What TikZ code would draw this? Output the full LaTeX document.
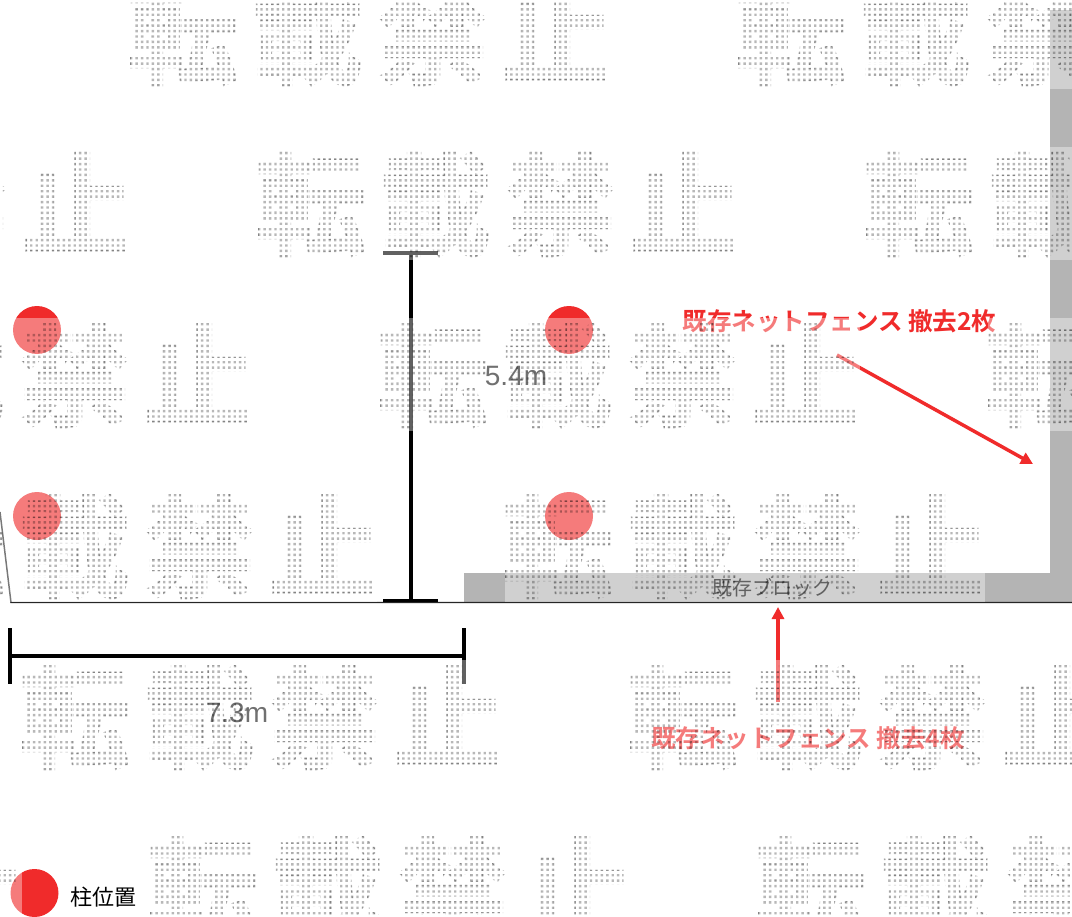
\documentclass[tikz,border=0pt]{standalone}
\usepackage{fontspec}
\usetikzlibrary{arrows.meta}
\newfontfamily\jpfont{Noto Sans CJK JP}
\newfontfamily\jpbold{Noto Sans CJK JP Bold}
\newfontfamily\jpwm[FakeBold=1.5]{Noto Sans CJK JP Bold}
\newfontfamily\latinfont{Liberation Sans}
\definecolor{fencered}{HTML}{F02B2B}
\definecolor{wallgrey}{HTML}{B4B4B4}
\newcount\wmi
\newcount\wmj
\newcommand\wmleft{0}
\newcommand\wmtop{0}
\def\wmcol{\ifnum\wmi<88
  \pgfpathrectangle{\pgfqpoint{\dimexpr\wmleft\dimexpr0.75pt\relax+\wmi\dimexpr4.0725pt\relax\relax}{\dimexpr-\wmtop\dimexpr0.75pt\relax-\wmj\dimexpr4.0725pt\relax-3.75pt\relax}}{\pgfqpoint{1.8pt}{-1.8pt}}%
  \advance\wmi 1 \expandafter\wmcol\fi}
\def\wmrow{\ifnum\wmj<20 \wmi=0 \wmcol \advance\wmj 1 \expandafter\wmrow\fi}
\newcommand\wmchar[1]{\makebox[93.75pt]{#1}}
\newcommand\wmword[3]{%
  \fill[white,opacity=.38] (#1,#2) rectangle ++(480,113);
  \begin{scope}
    \def\wmleft{#1}\def\wmtop{#2}\wmj=0 \wmrow
    \pgfusepath{clip}
    \node[wmtext] (#3) at (#1+240,#2+57) {\wmchar{転}\wmchar{載}\wmchar{禁}\wmchar{止}};
  \end{scope}}
\tikzset{
  wmtext/.style={inner sep=0pt,text=black,text opacity=.28,font=\jpwm\fontsize{84pt}{84pt}\selectfont},
  postdot/.style={circle,fill=fencered,draw=none,minimum size=36pt,inner sep=0pt},
  dimline/.style={draw=black,line width=3pt},
  tickline/.style={draw=black,line width=2.6pt},
  groundline/.style={draw=black!85,line width=1.1pt},
  redarrow/.style={draw=fencered,line width=2.6pt,-{Triangle[length=9pt,width=9pt]}},
  redlabel/.style={inner sep=0pt,text=fencered,font=\jpbold\fontsize{18.4pt}{18.4pt}\selectfont},
  dimlabel/.style={inner sep=0pt,text=black!90,font=\latinfont\fontsize{21pt}{21pt}\selectfont},
  blocklabel/.style={inner sep=0pt,text=black,font=\jpfont\fontsize{15pt}{15pt}\selectfont},
  legendlabel/.style={inner sep=0pt,text=black,font=\jpfont\fontsize{16.5pt}{16.5pt}\selectfont},
}
\begin{document}
\begin{tikzpicture}[x=0.75pt,y=-0.75pt]
\useasboundingbox (0,0) rectangle (1072,917);
\clip (0,0) rectangle (1072,917);
\fill[white] (0,0) rectangle (1072,917);
% walls
\fill[wallgrey] (464,573) rectangle (1072,602);
\fill[wallgrey] (1050,10) rectangle (1072,602);
% ground line
\coordinate (g0) at (0,512);
\coordinate (g1) at (11,602.5);
\coordinate (g2) at (1072,602.5);
\draw[groundline] (g0) -- (g1) -- (g2);
% height dimension
\coordinate (ht) at (410.5,253);
\coordinate (hb) at (410.5,600.5);
\coordinate (htl) at (383,253);
\coordinate (htr) at (438,253);
\coordinate (hbl) at (383,600.5);
\coordinate (hbr) at (438,600.5);
\draw[dimline] (ht) -- (hb);
\draw[tickline] (htl) -- (htr);
\draw[tickline] (hbl) -- (hbr);
% width dimension
\coordinate (wl) at (10,656);
\coordinate (wr) at (463.5,656);
\coordinate (wlt) at (10,628);
\coordinate (wlb) at (10,684);
\coordinate (wrt) at (463.5,628);
\coordinate (wrb) at (463.5,684);
\draw[dimline] (wl) -- (wr);
\draw[dimline] (wlt) -- (wlb);
\draw[dimline] (wrt) -- (wrb);
% posts
\node[postdot] (p1) at (37,330) {};
\node[postdot] (p2) at (569,330) {};
\node[postdot] (p3) at (37,516) {};
\node[postdot] (p4) at (569,516) {};
\node[postdot] (legenddot) at (34.5,893) {};
% labels
\node[dimlabel] (d54) at (516,376) {5.4m};
\node[dimlabel] (d73) at (237,713) {7.3m};
\node[blocklabel] (blk) at (772,588) {既存ブロック};
\node[redlabel] (l2) at (839.5,321) {既存ネットフェンス 撤去2枚};
\node[redlabel] (l4) at (808,738) {既存ネットフェンス 撤去4枚};
% red arrows
\coordinate (a1s) at (837,355);
\coordinate (a1e) at (1033,464);
\coordinate (a2s) at (778,702);
\coordinate (a2e) at (778,607);
\draw[redarrow] (a1s) -- (a1e);
\draw[redarrow] (a2s) -- (a2e);
% watermark tiles
\wmword{-478}{-24}{wa}
\wmword{130}{-24}{wb}
\wmword{738}{-24}{wc}
\wmword{-350}{147}{wd}
\wmword{258}{147}{we}
\wmword{866}{147}{wf}
\wmword{-228}{318}{wg}
\wmword{380}{318}{wh}
\wmword{988}{318}{wi}
\wmword{-103}{489}{wj}
\wmword{505}{489}{wk}
\wmword{22}{660}{wl2}
\wmword{630}{660}{wm}
\wmword{-458}{831}{wn}
\wmword{150}{831}{wo}
\wmword{758}{831}{wp}
\node[legendlabel] (leg) at (103,897) {柱位置};
\end{tikzpicture}
\end{document}
